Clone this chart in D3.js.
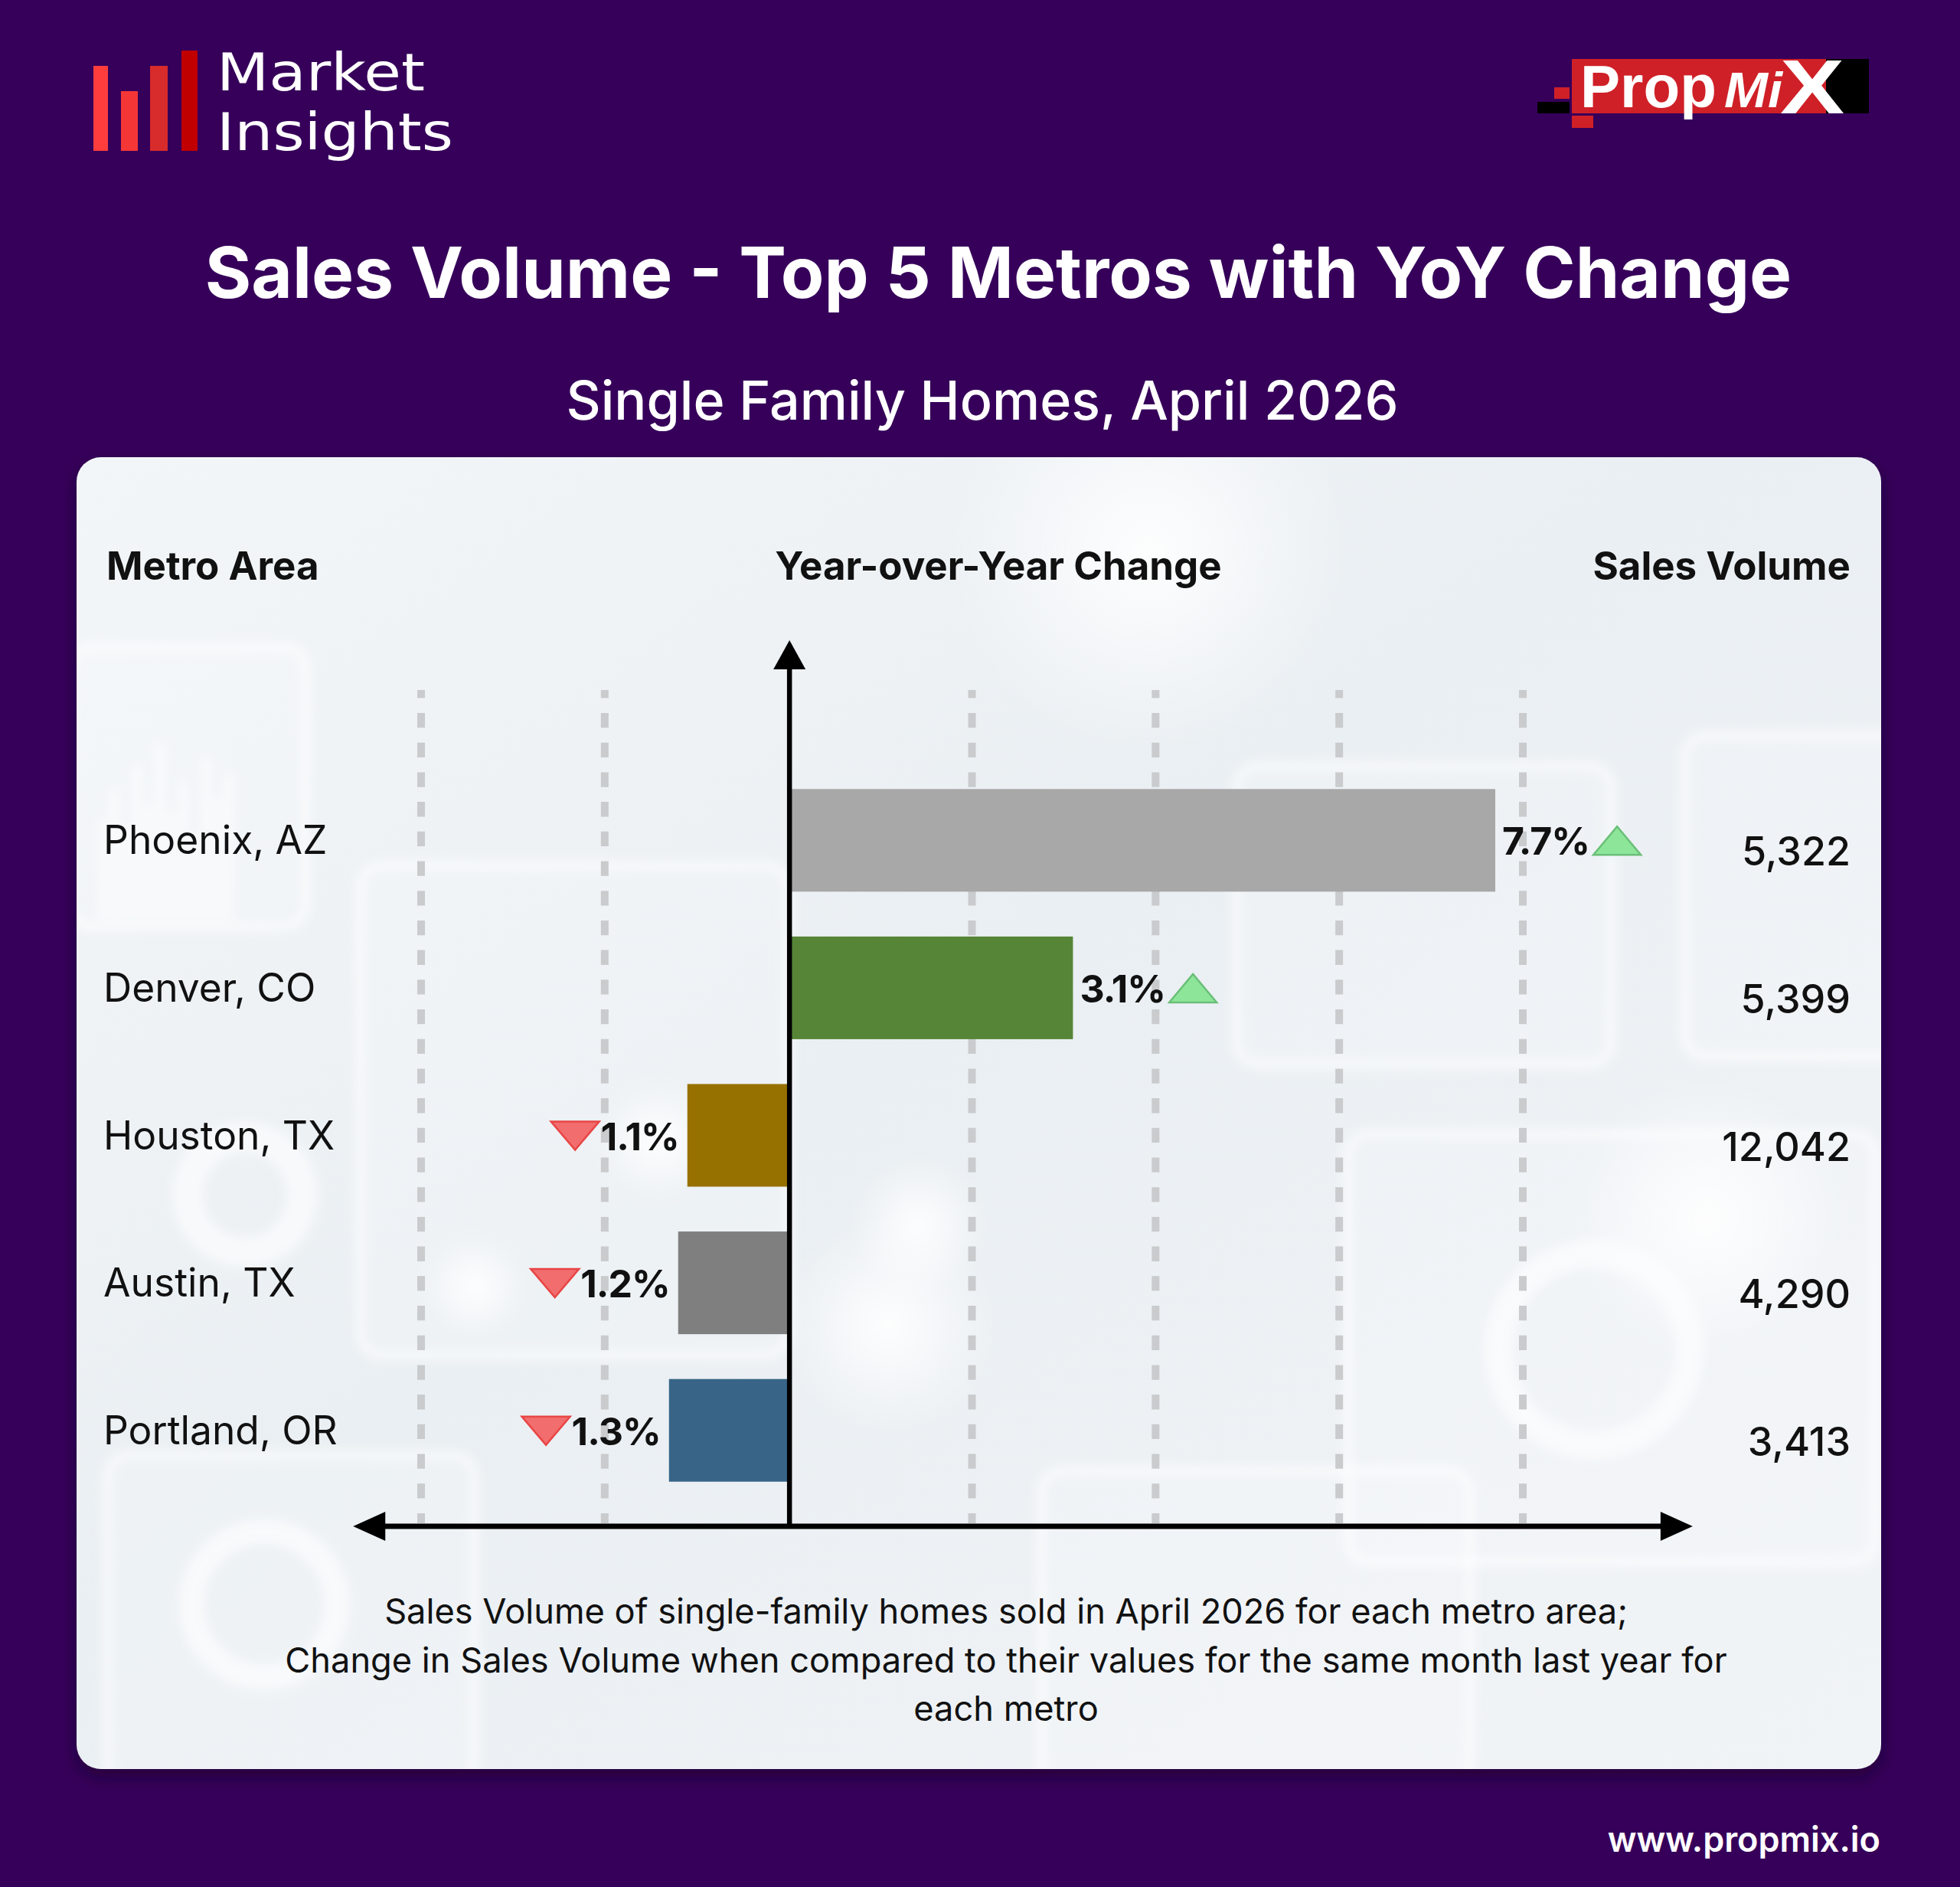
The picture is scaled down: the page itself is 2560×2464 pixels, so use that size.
<!DOCTYPE html>
<html>
<head>
<meta charset="utf-8">
<script src="https://cdn.jsdelivr.net/npm/d3@7"></script>
<style>
  html, body { margin: 0; padding: 0; background: #36005a; }
  svg { display: block; }
</style>
</head>
<body>
<svg id="chart" width="2560" height="2464"></svg>
<script>
// ---------------- DATA ----------------
const metros = ["Phoenix, AZ", "Denver, CO", "Houston, TX", "Austin, TX", "Portland, OR"];
const yoyChange = [7.7, 3.1, -1.1, -1.2, -1.3];
const salesVolume = [5322, 5399, 12042, 4290, 3413];
const barColors = ["#a8a8a8", "#578537", "#977100", "#7f7f7f", "#386587"];
const gridTicks = [-4, -2, 2, 4, 6, 8];

const titleText = "Sales Volume - Top 5 Metros with YoY Change";
const subtitleText = "Single Family Homes, April 2026";
const headerMetro = "Metro Area";
const headerYoY = "Year-over-Year Change";
const headerSales = "Sales Volume";
const footnoteLines = [
  "Sales Volume of single-family homes sold in April 2026 for each metro area;",
  "Change in Sales Volume when compared to their values for the same month last year for",
  "each metro"
];
const footerText = "www.propmix.io";

// ---------------- SETUP ----------------
const svg = d3.select("#chart");
const W = 2560, H = 2464;
const FONT = "Inter, 'Noto Sans', sans-serif";
const LOGOFONT = "'Liberation Sans', Arial, sans-serif";

const defs = svg.append("defs");
const bgGrad = defs.append("linearGradient").attr("id", "cardGrad")
  .attr("x1", "0").attr("y1", "0").attr("x2", "1").attr("y2", "1");
bgGrad.append("stop").attr("offset", "0").attr("stop-color", "#f3f6f8");
bgGrad.append("stop").attr("offset", "0.45").attr("stop-color", "#eaeff3");
bgGrad.append("stop").attr("offset", "1").attr("stop-color", "#f1f4f7");

const glow = defs.append("radialGradient").attr("id", "glow");
glow.append("stop").attr("offset", "0").attr("stop-color", "#ffffff").attr("stop-opacity", 0.9);
glow.append("stop").attr("offset", "1").attr("stop-color", "#ffffff").attr("stop-opacity", 0);

const shadow = defs.append("filter").attr("id", "shadow")
  .attr("x", "-5%").attr("y", "-5%").attr("width", "110%").attr("height", "112%");
shadow.append("feDropShadow").attr("dx", 0).attr("dy", 10).attr("stdDeviation", 10)
  .attr("flood-color", "#12001f").attr("flood-opacity", 0.55);

const blur = defs.append("filter").attr("id", "blur");
blur.append("feGaussianBlur").attr("stdDeviation", 7);

const clip = defs.append("clipPath").attr("id", "cardClip");
clip.append("rect").attr("x", 100).attr("y", 597).attr("width", 2357).attr("height", 1713).attr("rx", 32);

// Background
svg.append("rect").attr("width", W).attr("height", H).attr("fill", "#36005a");

// ---------------- LOGO: Market Insights ----------------
const logo = svg.append("g");
const logoBars = [
  {x: 122, y: 86, w: 19, c: "#ff3d3d"},
  {x: 158, y: 119, w: 22, c: "#f43636"},
  {x: 196, y: 86, w: 23, c: "#d82b2b"},
  {x: 237, y: 66, w: 21, c: "#c00000"}
];
logo.selectAll("rect").data(logoBars).join("rect")
  .attr("x", d => d.x).attr("y", d => d.y).attr("width", d => d.w)
  .attr("height", d => 197 - d.y).attr("fill", d => d.c);
logo.append("text").attr("x", 283).attr("y", 118).text("Market")
  .attr("font-family", "'DejaVu Sans', sans-serif").attr("font-weight", 400).attr("font-size", 67)
  .attr("textLength", 272).attr("lengthAdjust", "spacingAndGlyphs").attr("fill", "#ffffff");
logo.append("text").attr("x", 283).attr("y", 196).text("Insights")
  .attr("font-family", "'DejaVu Sans', sans-serif").attr("font-weight", 400).attr("font-size", 67)
  .attr("textLength", 309).attr("lengthAdjust", "spacingAndGlyphs").attr("fill", "#ffffff");

// ---------------- LOGO: PropMix ----------------
const pm = svg.append("g");
pm.append("rect").attr("x", 2030).attr("y", 114).attr("width", 20).attr("height", 15).attr("fill", "#cf2027");
pm.append("rect").attr("x", 2008).attr("y", 133).attr("width", 42).attr("height", 15).attr("fill", "#000000");
pm.append("rect").attr("x", 2053).attr("y", 151).attr("width", 28).attr("height", 16).attr("fill", "#cf2027");
pm.append("rect").attr("x", 2053).attr("y", 77).attr("width", 355).attr("height", 71).attr("fill", "#cf2027");
pm.append("rect").attr("x", 2385).attr("y", 77).attr("width", 56).attr("height", 71).attr("fill", "#000000");
pm.append("text").attr("x", 2064).attr("y", 140).text("Prop")
  .attr("font-family", LOGOFONT).attr("font-weight", 700)
  .attr("font-size", 77).attr("textLength", 178).attr("lengthAdjust", "spacingAndGlyphs")
  .attr("fill", "#ffffff");
pm.append("text").attr("x", 2252).attr("y", 140).text("Mi")
  .attr("font-family", LOGOFONT).attr("font-weight", 700)
  .attr("font-style", "italic").attr("font-size", 65).attr("textLength", 76)
  .attr("lengthAdjust", "spacingAndGlyphs").attr("fill", "#ffffff");
pm.append("text").attr("x", 2325).attr("y", 148).text("X")
  .attr("font-family", LOGOFONT).attr("font-weight", 700)
  .attr("font-size", 100).attr("textLength", 84).attr("lengthAdjust", "spacingAndGlyphs")
  .attr("fill", "#ffffff");

// ---------------- TITLES ----------------
svg.append("text").attr("x", 1304).attr("y", 389).attr("text-anchor", "middle")
  .text(titleText).attr("font-family", FONT).attr("font-weight", 700)
  .attr("font-size", 92.5).attr("fill", "#ffffff");
svg.append("text").attr("x", 1283).attr("y", 548).attr("text-anchor", "middle")
  .text(subtitleText).attr("font-family", FONT).attr("font-weight", 500)
  .attr("font-size", 70).attr("fill", "#ffffff");

// ---------------- CARD ----------------
svg.append("rect").attr("x", 100).attr("y", 597).attr("width", 2357).attr("height", 1713)
  .attr("rx", 32).attr("fill", "url(#cardGrad)").attr("filter", "url(#shadow)");

// faint decorative background imagery
const deco = svg.append("g").attr("clip-path", "url(#cardClip)").attr("filter", "url(#blur)");
const decoPanels = [
  {x: 90, y: 845, w: 310, h: 365},
  {x: 470, y: 1130, w: 560, h: 640},
  {x: 1615, y: 1000, w: 490, h: 390},
  {x: 1760, y: 1480, w: 690, h: 560},
  {x: 140, y: 1900, w: 480, h: 430},
  {x: 1360, y: 1920, w: 560, h: 420},
  {x: 2200, y: 960, w: 300, h: 420}
];
deco.selectAll("rect.panel").data(decoPanels).join("rect").attr("class", "panel")
  .attr("x", d => d.x).attr("y", d => d.y).attr("width", d => d.w).attr("height", d => d.h)
  .attr("rx", 28).attr("fill", "#ffffff").attr("fill-opacity", 0.16)
  .attr("stroke", "#ffffff").attr("stroke-opacity", 0.7).attr("stroke-width", 10);
const decoRings = [
  {cx: 345, cy: 2095, r: 95, w: 34},
  {cx: 2082, cy: 1762, r: 125, w: 36},
  {cx: 320, cy: 1560, r: 75, w: 40}
];
deco.selectAll("circle.ring").data(decoRings).join("circle").attr("class", "ring")
  .attr("cx", d => d.cx).attr("cy", d => d.cy).attr("r", d => d.r)
  .attr("fill", "none").attr("stroke", "#ffffff").attr("stroke-opacity", 0.6)
  .attr("stroke-width", d => d.w);
const decoGlows = [
  {cx: 1160, cy: 1730, r: 140}, {cx: 1200, cy: 1600, r: 90}, {cx: 860, cy: 1490, r: 80},
  {cx: 2230, cy: 1590, r: 180}, {cx: 620, cy: 1680, r: 70}, {cx: 1500, cy: 720, r: 260}
];
deco.selectAll("circle.glow").data(decoGlows).join("circle").attr("class", "glow")
  .attr("cx", d => d.cx).attr("cy", d => d.cy).attr("r", d => d.r).attr("fill", "url(#glow)");
const decoBarsH = [130, 170, 120, 200, 150, 230, 140, 180, 110, 210, 160, 190];
deco.selectAll("rect.mini").data(decoBarsH).join("rect").attr("class", "mini")
  .attr("x", (d, i) => 130 + i * 15).attr("y", d => 1200 - d).attr("width", 8).attr("height", d => d)
  .attr("fill", "#ffffff").attr("fill-opacity", 0.8);

// ---------------- HEADERS ----------------
const headerStyle = sel => sel.attr("font-family", FONT).attr("font-weight", 700)
  .attr("font-size", 51).attr("fill", "#111111");
svg.append("text").attr("x", 139).attr("y", 757).text(headerMetro).call(headerStyle);
svg.append("text").attr("x", 1304).attr("y", 757).attr("text-anchor", "middle").text(headerYoY).call(headerStyle);
svg.append("text").attr("x", 2417).attr("y", 757).attr("text-anchor", "end").text(headerSales).call(headerStyle);

// ---------------- SCALES ----------------
const x = d3.scaleLinear().domain([-4, 8]).range([550, 1989]);
const y = d3.scaleBand().domain(metros).range([1001, 1964]).paddingInner(0.304).paddingOuter(0.152);

const rows = metros.map((m, i) => ({metro: m, yoy: yoyChange[i], sales: salesVolume[i], color: barColors[i]}));

// ---------------- GRIDLINES ----------------
const plot = svg.append("g");
plot.selectAll("line.grid").data(gridTicks).join("line").attr("class", "grid")
  .attr("x1", d => x(d)).attr("x2", d => x(d)).attr("y1", 901).attr("y2", 1989)
  .attr("stroke", "#c9cbcd").attr("stroke-width", 10)
  .attr("stroke-dasharray", "19.3 19.4").attr("stroke-dashoffset", 8.7);

// ---------------- BARS ----------------
plot.selectAll("rect.bar").data(rows).join("rect").attr("class", "bar")
  .attr("x", d => Math.min(x(0), x(d.yoy))).attr("width", d => Math.abs(x(d.yoy) - x(0)))
  .attr("y", d => y(d.metro)).attr("height", y.bandwidth()).attr("fill", d => d.color);

// ---------------- AXES ----------------
const axisMinV = -4.74, axisMaxV = 9.85;
const x0 = x(0) + 1.5, yAxisY = 1993, yTop = 836;
plot.append("line").attr("x1", x0).attr("x2", x0).attr("y1", yTop + 34).attr("y2", yAxisY)
  .attr("stroke", "#000").attr("stroke-width", 6.5);
plot.append("line").attr("x1", x(axisMinV) + 38).attr("x2", x(axisMaxV) - 38).attr("y1", yAxisY).attr("y2", yAxisY)
  .attr("stroke", "#000").attr("stroke-width", 7);
const tri = (pts) => "M" + pts.map(p => p.join(",")).join("L") + "Z";
plot.append("path").attr("d", tri([[x0, yTop], [x0 - 21, yTop + 38], [x0 + 21, yTop + 38]])).attr("fill", "#000");
plot.append("path").attr("d", tri([[x(axisMinV), yAxisY], [x(axisMinV) + 42, yAxisY - 19], [x(axisMinV) + 42, yAxisY + 19]])).attr("fill", "#000");
plot.append("path").attr("d", tri([[x(axisMaxV), yAxisY], [x(axisMaxV) - 42, yAxisY - 19], [x(axisMaxV) - 42, yAxisY + 19]])).attr("fill", "#000");

// ---------------- LABELS ----------------
const fmtPct = v => Math.abs(v).toFixed(1) + "%";
const fmtNum = d3.format(",");
const labelG = svg.append("g");

labelG.selectAll("text.metro").data(rows).join("text").attr("class", "metro")
  .attr("x", 135).attr("y", d => y(d.metro) + y.bandwidth() / 2 + 18).text(d => d.metro)
  .attr("font-family", FONT).attr("font-weight", 400).attr("font-size", 51.5).attr("fill", "#111111");

labelG.selectAll("text.sales").data(rows).join("text").attr("class", "sales")
  .attr("x", 2417).attr("y", d => y(d.metro) + y.bandwidth() / 2 + 33).attr("text-anchor", "end")
  .text(d => fmtNum(d.sales))
  .attr("font-family", FONT).attr("font-weight", 500).attr("font-size", 52).attr("fill", "#111111");

rows.forEach(d => {
  const base = y(d.metro) + y.bandwidth() / 2 + 19;
  const pos = d.yoy >= 0;
  const t = labelG.append("text").attr("y", base).text(fmtPct(d.yoy))
    .attr("font-family", FONT).attr("font-weight", 700).attr("font-size", 50)
    .attr("letter-spacing", -1).attr("fill", "#111111");
  if (pos) {
    t.attr("x", x(d.yoy) + 9).attr("text-anchor", "start");
    const tw = t.node().getComputedTextLength();
    const tx = x(d.yoy) + 9 + tw + 5;
    labelG.append("path").attr("d", tri([[tx, base], [tx + 62, base], [tx + 31, base - 37]]))
      .attr("fill", "#8de59a").attr("stroke", "#6bbf78").attr("stroke-width", 2.5);
  } else {
    const end = x(d.yoy) - 11;
    t.attr("x", end).attr("text-anchor", "end");
    const tw = t.node().getComputedTextLength();
    const tx = end - tw - 2;
    labelG.append("path").attr("d", tri([[tx - 63, base - 37], [tx, base - 37], [tx - 31.5, base]]))
      .attr("fill", "#f26d6d").attr("stroke", "#e84545").attr("stroke-width", 2.5);
  }
});

// ---------------- FOOTNOTE ----------------
const footY = [2120, 2184, 2247];
svg.append("g").selectAll("text").data(footnoteLines).join("text")
  .attr("x", 1314).attr("y", (d, i) => footY[i]).attr("text-anchor", "middle").text(d => d)
  .attr("font-family", FONT).attr("font-weight", 400).attr("font-size", 45.2).attr("fill", "#111111");

svg.append("text").attr("x", 2456).attr("y", 2418).attr("text-anchor", "end").text(footerText)
  .attr("font-family", FONT).attr("font-weight", 600).attr("font-size", 45).attr("fill", "#ffffff");
</script>
</body>
</html>
